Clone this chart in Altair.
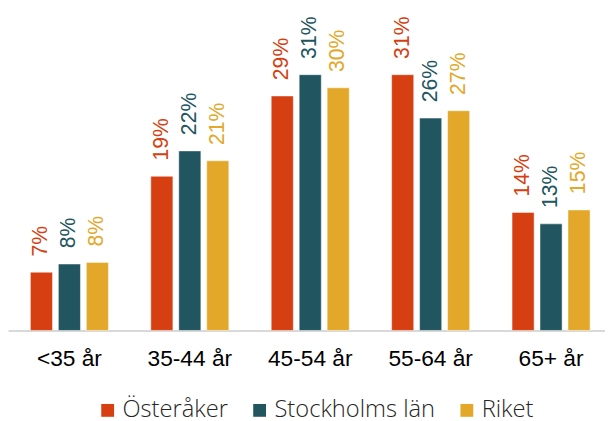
import altair as alt
import pandas as pd

categories = ["<35 år", "35-44 år", "45-54 år", "55-64 år", "65+ år"]
series = ["Österåker", "Stockholms län", "Riket"]
osteraker = [7.1, 18.8, 28.6, 31.2, 14.4]
stockholm = [8.1, 21.9, 31.2, 25.9, 13.0]
riket = [8.3, 20.7, 29.6, 26.8, 14.7]
colors = ["#D63F11", "#21555F", "#E3A829"]

rows = []
for name, vals in zip(series, [osteraker, stockholm, riket]):
    for c, v in zip(categories, vals):
        rows.append({"kategori": c, "serie": name, "value": v})
df = pd.DataFrame(rows)

x = alt.X("kategori:N", sort=categories, title=None,
          scale=alt.Scale(paddingInner=0.352, paddingOuter=0.155, align=0.6),
          axis=alt.Axis(labelAngle=0, ticks=False, domainColor="#d9d9d9", domainWidth=2,
                        labelFont="Liberation Sans", labelFontSize=23, labelColor="#000000",
                        labelPadding=18))
xo = alt.XOffset("serie:N", sort=series, scale=alt.Scale(paddingInner=0.21, paddingOuter=0))
y = alt.Y("value:Q", scale=alt.Scale(domain=[0, 39], nice=False), axis=None)
color = alt.Color("serie:N", sort=series,
                  scale=alt.Scale(domain=series, range=colors),
                  legend=alt.Legend(title=None, orient="none", direction="horizontal",
                                    legendX=89, legendY=393, symbolType="square",
                                    symbolSize=169, symbolStrokeWidth=0, labelFont="Open Sans",
                                    labelFontWeight=300, labelFontSize=24, labelColor="#262626",
                                    labelOffset=3, columnPadding=20, padding=0, labelLimit=400))

base = alt.Chart(df).encode(x=x, xOffset=xo, y=y)
bars = base.mark_bar(stroke="white", strokeWidth=0.8, strokeOpacity=0.6).encode(color=color)
labels = base.transform_calculate(
    label="format(datum.value, '.0f') + '%'"
).mark_text(angle=270, align="left", baseline="middle", dx=16,
            font="Liberation Sans", fontSize=21.5).encode(
    text="label:N",
    color=alt.Color("serie:N", sort=series, scale=alt.Scale(domain=series, range=colors), legend=None),
)

chart = (bars + labels).properties(
    width=605, height=324,
    autosize=alt.AutoSizeParams(type="none"),
    padding={"left": 0, "top": 0, "right": 0, "bottom": 89},
).configure_view(stroke=None).configure_axis(grid=False)

chart.save("out.html", embed_options={"renderer": "svg", "actions": False})
